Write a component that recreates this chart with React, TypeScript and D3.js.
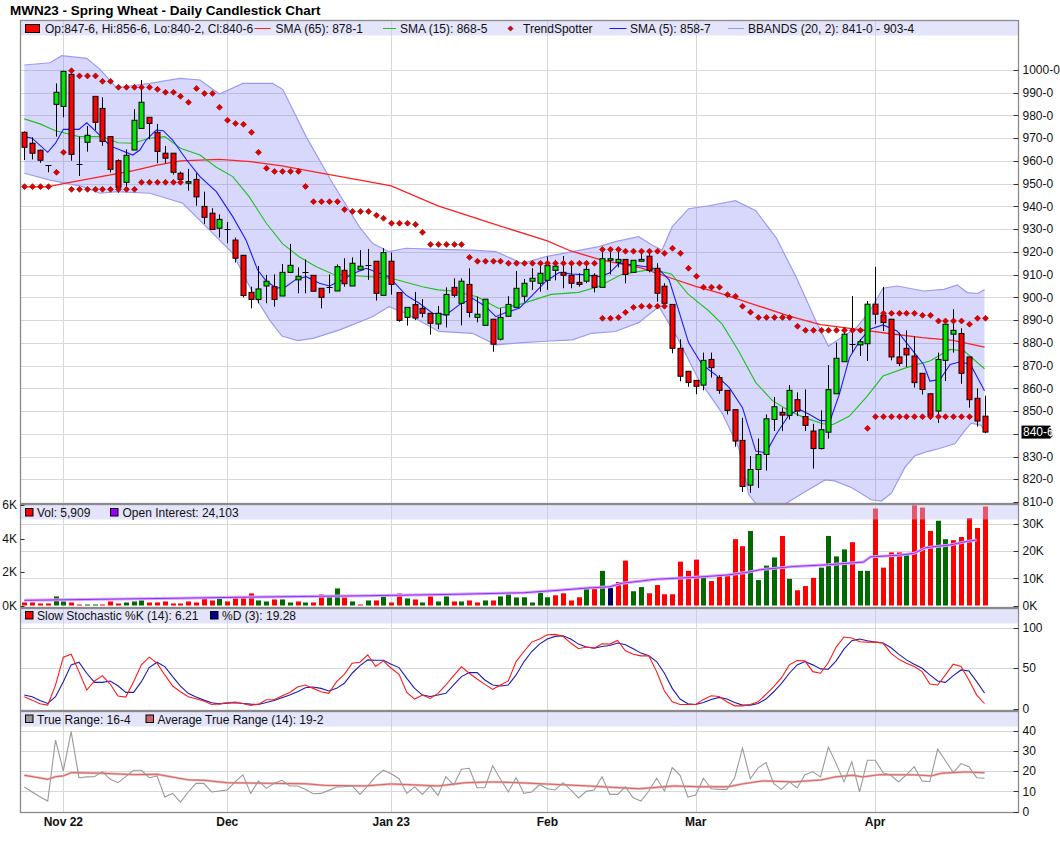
import { useRef, useEffect } from 'react';
import * as d3 from 'd3';

// daily candles, Oct 25 2022 .. Apr 24 2023 (index 0..123)
const opens = [
  972.6, 967.8, 964.7, 958.1, 984.9, 984.0, 998.1, 958.5, 968.2, 988.4, 983.1, 970.7, 960.1, 950.6, 964.8, 974.3, 979.2, 972.6, 963.4, 963.4,
  954.6, 950.2, 951.9, 940.0, 937.0, 930.4, 930.1, 925.2, 918.5, 902.2, 899.1, 905.0, 904.7, 900.6, 911.0, 907.7, 911.3, 909.7, 904.0, 904.7,
  902.8, 911.9, 905.0, 912.1, 914.3, 915.9, 900.9, 915.9, 902.1, 891.2, 896.8, 895.2, 893.0, 888.3, 892.3, 904.4, 897.4, 905.7, 891.2, 887.7,
  890.4, 881.6, 891.7, 895.6, 900.5, 907.1, 906.2, 907.5, 911.9, 911.0, 909.7, 906.6, 907.1, 909.7, 904.4, 916.3, 915.4, 916.7, 911.0, 915.9,
  918.1, 912.8, 904.9, 896.9, 877.6, 867.5, 863.5, 861.4, 872.7, 864.7, 859.1, 850.6, 837.1, 817.4, 824.3, 830.9, 846.3, 849.4, 848.1, 855.0,
  847.6, 841.2, 833.5, 840.7, 857.6, 871.7, 879.4, 879.1, 879.6, 897.0, 892.1, 890.4, 873.8, 877.6, 874.2, 866.6, 857.6, 850.0, 872.3, 883.8,
  884.1, 873.8, 855.6, 847.75,
];
const highs = [
  973.0, 970.4, 965.0, 958.1, 994.1, 999.7, 1000.3, 970.7, 975.4, 988.4, 988.0, 970.7, 960.7, 965.1, 982.8, 995.6, 979.2, 976.3, 966.6, 963.4,
  955.3, 956.5, 954.6, 946.5, 939.2, 936.5, 933.2, 926.3, 918.5, 904.7, 913.8, 909.9, 910.1, 914.7, 923.5, 913.2, 916.7, 909.7, 904.0, 910.1,
  914.5, 917.2, 917.6, 920.8, 921.3, 915.9, 921.6, 919.7, 902.1, 895.6, 902.4, 899.2, 893.0, 896.2, 904.4, 908.4, 908.4, 912.8, 900.3, 899.2,
  890.4, 895.2, 900.5, 911.6, 908.1, 912.8, 915.0, 917.9, 916.5, 918.2, 915.0, 910.6, 915.0, 910.6, 921.6, 921.6, 921.6, 916.7, 916.3, 920.8,
  920.8, 915.0, 906.2, 896.9, 881.6, 867.5, 863.5, 875.7, 875.7, 865.8, 859.1, 850.6, 847.0, 830.2, 837.9, 848.5, 856.2, 851.5, 861.4, 858.2,
  859.5, 844.4, 850.3, 870.2, 880.2, 886.7, 900.6, 881.6, 898.4, 913.4, 904.6, 890.4, 884.5, 885.5, 883.0, 866.6, 857.6, 875.7, 888.2, 894.8,
  886.4, 873.8, 860.0, 856.75,
];
const lows = [
  960.4, 960.7, 959.2, 955.0, 970.7, 979.2, 960.1, 953.4, 964.1, 973.6, 966.6, 954.9, 946.1, 948.7, 964.8, 974.3, 969.5, 959.0, 959.0, 954.0,
  950.2, 946.9, 940.3, 932.3, 929.9, 926.3, 923.8, 915.3, 900.0, 895.2, 897.4, 897.4, 895.9, 900.6, 911.0, 901.8, 901.8, 902.7, 895.2, 901.8,
  902.8, 904.7, 905.0, 912.1, 907.7, 898.6, 900.9, 901.2, 889.3, 887.6, 890.0, 891.2, 883.6, 886.0, 886.8, 900.0, 887.7, 891.2, 889.0, 887.7,
  876.1, 881.0, 891.7, 895.6, 898.1, 903.3, 902.5, 903.3, 907.5, 904.0, 904.0, 904.7, 906.2, 902.2, 904.4, 910.1, 913.2, 906.2, 911.0, 915.9,
  911.0, 898.1, 895.2, 875.4, 863.1, 860.7, 857.4, 859.1, 864.7, 857.6, 848.5, 834.3, 814.4, 814.0, 816.2, 823.8, 841.2, 841.2, 846.3, 847.8,
  841.2, 824.7, 833.1, 837.9, 857.6, 871.7, 875.7, 874.2, 872.0, 888.2, 885.2, 872.3, 869.8, 869.4, 860.3, 857.3, 846.3, 844.8, 863.2, 875.7,
  862.0, 851.5, 843.2, 840.25,
];
const closes = [
  966.0, 963.4, 960.3, 958.1, 990.2, 999.4, 962.9, 958.5, 971.3, 977.0, 968.6, 956.3, 948.4, 962.5, 977.9, 985.8, 976.5, 964.2, 961.2, 955.0,
  951.9, 950.9, 944.2, 935.2, 929.9, 934.3, 930.1, 917.2, 900.8, 899.1, 903.7, 907.1, 899.1, 911.0, 914.1, 909.3, 911.3, 902.7, 900.0, 904.7,
  913.5, 906.0, 915.0, 913.7, 914.3, 901.8, 919.7, 905.7, 889.9, 895.6, 890.9, 893.0, 888.6, 893.0, 901.3, 900.9, 907.1, 893.4, 892.6, 899.2,
  879.4, 891.2, 896.9, 904.0, 906.2, 908.4, 910.6, 914.0, 913.7, 909.7, 906.2, 905.7, 912.3, 904.4, 917.0, 917.0, 916.7, 910.1, 916.3, 916.7,
  911.9, 901.8, 897.4, 877.6, 865.3, 862.6, 860.9, 872.3, 869.1, 859.1, 850.3, 836.8, 816.8, 824.3, 830.9, 846.6, 851.9, 848.2, 859.1, 850.0,
  843.7, 833.5, 841.8, 859.4, 873.2, 883.8, 879.4, 880.5, 897.0, 892.6, 888.9, 873.8, 871.0, 874.7, 862.5, 859.5, 848.1, 872.7, 888.2, 885.5,
  866.6, 855.0, 845.6, 840.75,
];

// volume in thousands, direction vs previous close: g up, r down, n unchanged
const volumes = [
  0.18, 0.18, 0.12, 0.12, 0.54, 0.24, 0.18, 0.06, 0.06, 0.06, 0.06, 0.24, 0.12, 0.18, 0.24, 0.3, 0.18, 0.18, 0.24, 0.12,
  0.12, 0.24, 0.18, 0.42, 0.3, 0.42, 0.24, 0.48, 0.54, 0.72, 0.3, 0.24, 0.36, 0.36, 0.18, 0.24, 0.18, 0.18, 0.66, 0.54,
  1.02, 0.48, 0.24, 0.06, 0.3, 0.3, 0.66, 0.18, 0.72, 0.42, 0.36, 0.18, 0.54, 0.24, 0.54, 0.24, 0.24, 0.3, 0.18, 0.3,
  0.3, 0.54, 0.66, 0.48, 0.49, 0.18, 0.79, 0.49, 0.61, 0.73, 0.3, 0.49, 0.98, 0.98, 2.07, 1.04, 1.4, 2.68, 0.85, 1.1,
  0.73, 1.22, 0.67, 0.67, 2.62, 2.07, 2.74, 1.77, 1.46, 1.77, 1.83, 3.96, 3.54, 4.45, 1.52, 2.38, 2.87, 4.15, 1.59, 0.91,
  1.16, 1.65, 2.26, 4.15, 2.93, 3.35, 3.78, 2.07, 2.07, 5.79, 2.26, 3.17, 3.17, 3.11, 5.98, 5.85, 4.45, 5.06, 3.96, 3.9,
  4.09, 5.22, 4.63, 5.909,
];
const volumeDir =
  'rrrrggrrggrrrgggrrrrrrrrrgrrrrggrggrgrrggrgrgrgrrgrgrggrgrrgrgggg' +
  'gggrrrrgrgnrrggrrrrrrrgrrrrrggggrgrrrggggrggrrrrgrrrggrrrrr';

// open interest in thousands [day, value]
const openInterest = [
  [0, 1.9], [10, 2.3], [20, 2.7], [27, 3.0], [35, 3.3], [44, 3.6], [55, 4.1], [64, 4.7], [68, 5.5], [72, 6.4],
  [75, 6.9], [76.6, 8.2], [81, 9.7], [85.5, 10.3], [90, 11.2], [92.6, 12.2], [94.3, 13.2], [98.7, 14.4], [103, 15.0],
  [107.5, 16.0], [108.4, 17.9], [112, 18.5], [114, 19.2], [115.5, 21.3], [118.6, 22.3], [120.8, 23.6], [122, 24.1],
];

const sma65 = [
  [0, 948.6], [3, 948.6], [5, 950], [10, 953.2], [14, 955.7], [17, 958.2], [20, 960], [25, 960.7], [29, 959.7], [33, 957.8],
  [37, 955.3], [43, 951.6], [47, 949], [53, 940.2], [60, 932.4], [67, 924.8], [70, 920.4], [74, 916.4], [79, 913], [83, 908.3],
  [86, 904.8], [89, 902], [94, 896.3], [98, 891.8], [102, 888], [107, 885.8], [111, 884], [115, 882.3], [119, 881.1], [123, 878.1],
];
const sma15 = [
  [0, 978.5], [2, 976.3], [4, 973.3], [7, 970.7], [10, 970.7], [12, 968], [14, 967.8], [16, 970], [18, 970.7], [20, 965.6],
  [22.5, 962.6], [24.6, 957.2], [26.7, 953.1], [28.8, 944.3], [31, 932.6], [33.1, 923.5], [35.2, 917.9], [37.4, 913.5],
  [39.5, 910.3], [42.5, 909.5], [47, 908.4], [51, 904.7], [53, 903.3], [55, 902.8], [58, 900.3], [60.7, 895.2], [63.3, 896.7],
  [67.5, 901.3], [71, 902.2], [73.5, 904.7], [76.5, 910.1], [80.3, 912.3], [82.9, 910.3], [85, 901.5], [87.7, 894],
  [89.4, 888.2], [91.5, 876.4], [93.7, 862.5], [95.8, 854.7], [98, 850], [100, 847], [102.3, 844.4], [103.6, 844.1],
  [105.7, 847.8], [107.9, 856.2], [110, 865.4], [113, 869.1], [116, 872], [118.6, 877.1], [120.4, 876.4], [123, 868.6],
];
const sma5 = [
  [0, 970.7], [1, 970], [3, 963.8], [4, 967.8], [5, 973.9], [7, 973.9], [8, 976.8], [9.2, 972.9], [11, 966.6], [12.3, 964.8],
  [13.9, 962.6], [14.8, 964.8], [15.6, 969.2], [16.9, 973.6], [17.8, 973.3], [19, 969.2], [20.8, 960.4], [22.5, 953.1],
  [24.6, 946.5], [26.7, 935.5], [28.4, 925.2], [29.9, 912], [31, 907.2], [32.3, 904], [33.5, 904.7], [34.8, 907.9],
  [36.1, 909.1], [37.8, 906.2], [39.1, 905], [40.8, 907.7], [42, 910.3], [43.8, 912.8], [45, 911.3], [46.7, 909.1],
  [48.9, 901], [50.6, 897.4], [52.3, 893], [54, 892.3], [55.7, 896.7], [57.4, 899.6], [59.1, 896], [60.4, 891.5],
  [61.7, 893.3], [63.4, 895.2], [65.1, 901], [66.8, 907], [68.5, 910.9], [70.2, 910.3], [71.9, 909.9], [73.6, 909.1],
  [74.9, 910.6], [76.2, 915], [77.9, 914.3], [79.6, 913.5], [81.3, 912.3], [82.6, 907.7], [83.8, 894.5], [85.1, 880],
  [86.8, 870.5], [88.5, 866.1], [90.3, 860.3], [92, 851.5], [93.7, 832.4], [95, 831.6], [96.3, 839.7], [98, 848.5],
  [99.3, 850.7], [100.6, 848.5], [101.9, 845.9], [103.2, 845.6], [104.4, 857.3], [105.7, 873.5], [107, 880.8], [108.3, 886],
  [110, 887.9], [111.8, 885.2], [113.5, 877.9], [115.2, 870.5], [116, 863.2], [117.3, 863.9], [118.6, 870.5], [119.9, 871.7],
  [121.2, 870.5], [123, 858.9],
];
const bbUpper = [
  [0, 1002.2], [3.3, 1003.2], [4.8, 1006.3], [8, 1005.1], [9.7, 1000.3], [11.8, 992.2], [16.1, 994.1], [19.9, 996.3],
  [22.5, 995.6], [25, 989.4], [28, 994.1], [31.8, 994.1], [33.1, 991.5], [36.1, 970.7], [39.5, 950.2], [42.9, 931.1],
  [44.6, 923.8], [46.7, 920.1], [48.9, 921.6], [53.1, 921.1], [57.4, 920.8], [60.4, 920.1], [63.8, 915], [66.8, 917.9],
  [70.2, 920.1], [73.6, 922.3], [75.7, 924.5], [78.7, 926.7], [80.4, 923], [81.7, 920.8], [83, 931.1], [85.1, 939],
  [87.7, 940.3], [91.1, 942.5], [93.7, 938.1], [96.3, 926.3], [98.9, 908.7], [101.4, 889.6], [103, 878.6], [104, 880.8],
  [106.6, 886.7], [108.3, 894], [110, 904], [111.8, 905], [115.2, 902.8], [117.8, 903.5], [119.5, 905.5], [120.8, 902.1],
  [122.1, 901.7], [123, 903.4],
];
const bbLower = [
  [0, 954.6], [3.3, 951.6], [7.5, 948.7], [9.7, 945.8], [11.8, 946.5], [16.1, 945.8], [20.3, 941.4], [23.3, 931.1],
  [26.7, 919.4], [29.3, 901.8], [31.4, 890.1], [33, 883], [35, 881], [37, 882], [40.4, 885.7], [44.6, 891.5], [46.7, 895.9],
  [48.9, 893], [53.1, 885], [57.4, 884.2], [60.4, 879.1], [63.8, 880.1], [66.8, 880.7], [70.2, 881.3], [72.7, 884.2],
  [75.7, 885], [78.7, 888.9], [81.3, 896], [83.8, 881.3], [86.4, 863.7], [88, 856], [89.4, 849], [91.5, 834], [92.8, 813.3],
  [94, 808], [96, 805], [97.4, 809], [100, 814.5], [102.6, 819.7], [103.8, 819.3], [106, 816.3], [108.5, 811], [109.8, 810.4],
  [111.1, 814], [112.8, 825.2], [114.1, 830.4], [115.8, 832.3], [117, 833.3], [119.2, 835.6], [120.5, 841.5], [121.3, 844.7],
  [122.6, 843.7], [123, 841],
];

const trendSpotter = [
  [0, 948.7], [1, 948.7], [2, 948.7], [3, 948.7], [4, 955.0], [5, 963.8], [6, 999.7], [7, 997.4], [8, 997.4], [9, 997.4],
  [10, 995.0], [11, 995.0], [12, 992.4], [13, 992.4], [14, 992.4], [15, 992.4], [16, 992.4], [17, 991.5], [18, 990.2],
  [19, 990.2], [20, 988.4], [21, 985.8], [22, 991.9], [23, 989.7], [24, 989.7], [25, 983.6], [26, 977.9], [27, 976.5],
  [28, 976.1], [29, 972.6], [30, 963.8], [31, 956.8], [32, 955.4], [33, 955.4], [34, 955.4], [35, 955.4], [36, 948.8],
  [37, 942.1], [38, 942.1], [39, 942.1], [40, 942.1], [41, 938.6], [42, 937.8], [43, 937.8], [44, 937.8], [45, 936.1],
  [46, 934.8], [47, 932.6], [48, 932.6], [49, 932.6], [50, 932.1], [51, 928.6], [52, 923.3], [53, 923.3], [54, 923.3],
  [55, 923.3], [56, 923.3], [57, 917.6], [58, 915.9], [59, 915.9], [60, 915.9], [61, 915.9], [62, 915.0], [63, 915.0],
  [64, 915.0], [65, 915.0], [66, 915.0], [67, 915.0], [68, 915.0], [69, 915.0], [70, 915.0], [71, 915.0], [72, 915.0],
  [73, 915.0], [74, 921.1], [75, 921.1], [76, 921.1], [77, 920.3], [78, 920.3], [79, 920.3], [80, 920.3], [81, 920.3],
  [82, 919.4], [83, 921.6], [84, 919.4], [85, 912.8], [86, 909.3], [87, 904.5], [88, 904.5], [89, 904.5], [90, 901.2],
  [91, 900.5], [92, 896.1], [93, 893.5], [94, 891.2], [95, 891.2], [96, 891.2], [97, 891.2], [98, 891.2], [99, 887.3],
  [100, 885.5], [101, 885.5], [102, 885.5], [103, 885.5], [104, 885.5], [105, 885.5], [106, 885.5], [107, 885.5],
  [110, 893.0], [111, 893.0], [112, 893.0], [113, 893.0], [114, 893.0], [115, 892.1], [116, 892.1], [117, 889.6],
  [118, 889.6], [119, 889.6], [120, 889.6], [121, 888.2], [122, 890.8], [123, 890.8],
  // lower row
  [6, 947.5], [7, 947.5], [8, 947.5], [9, 947.5], [10, 947.5], [11, 947.5], [12, 947.5], [13, 947.5], [14, 947.5],
  [15, 950.6], [16, 950.6], [17, 950.6], [18, 950.6], [19, 950.6], [20, 950.6],
  [74, 890.8], [75, 890.8], [76, 891.2], [77, 893.4], [78, 895.6], [79, 896.1], [80, 896.1], [81, 896.1], [82, 896.1],
  [108, 842.4], [109, 847.5], [110, 847.5], [111, 847.5], [112, 847.5], [113, 847.5], [114, 847.5], [115, 847.5],
  [116, 847.5], [117, 847.5], [118, 847.5], [119, 847.5], [120, 847.5], [121, 847.5],
];

const stochK = [
  14.6, 10.4, 5.8, 4.2, 29, 63.8, 67.5, 45.8, 22.9, 34.2, 40.8, 30.4, 15.4, 14.2, 33.3, 54.2, 63.8, 56.3, 41.7, 27.9,
  20.8, 14.6, 12.1, 9.2, 5, 5.8, 7.1, 7.9, 6.3, 3.8, 5.4, 10.8, 10.8, 15.4, 20, 26.7, 29.2, 25, 20.8, 18.8,
  33.3, 42.5, 56.3, 57.5, 66.7, 52.1, 59.2, 50, 42.5, 20, 11.7, 16.7, 12.5, 18.8, 29.2, 40.8, 51.7, 43.8, 36.7, 30,
  23.8, 29.2, 34.2, 58.3, 70.8, 82.5, 86.3, 91.7, 92.1, 89.6, 81.3, 74.2, 76.3, 75, 80.4, 80, 84.6, 71.7, 67.5, 65.4,
  65.4, 45.8, 21.7, 8.3, 5, 5, 5, 11.3, 15.8, 15, 8.3, 3.3, 3.3, 5, 8.3, 17.5, 27.1, 38.3, 54.2, 59.6,
  59.2, 45.8, 43.8, 57.1, 76.3, 88.8, 87.5, 82.9, 82.5, 82.5, 81.3, 68.8, 61.3, 56.3, 52.1, 45.8, 30.4, 29.2, 41.7, 55,
  52.1, 35.4, 16.7, 6.21,
];
const stochD = [
  16.7, 14.6, 10, 6.3, 14.6, 33.3, 54.2, 57.5, 43.8, 32.5, 32.5, 34.2, 28.3, 20, 20, 33.3, 50.8, 57.5, 52.1, 39.6,
  27.9, 18.8, 14.2, 10.4, 7.1, 5.8, 6.7, 7.1, 6.3, 5.4, 5, 7.5, 10, 13.3, 16.7, 20.8, 25.8, 26.7, 25, 21.7,
  25, 31.3, 43.8, 53.3, 60.4, 60, 60, 55, 50.8, 37.5, 25, 16.7, 15, 16.7, 18.8, 29.2, 39.6, 44.6, 44.6, 35.4,
  29.2, 27.9, 29.2, 41.7, 58, 70.8, 80, 86.3, 89.6, 90.4, 86.3, 80, 76.3, 75, 77.1, 78.3, 81.3, 79.2, 74.2, 68.8,
  65.4, 58.3, 43.8, 25, 11.7, 5.8, 5, 7.5, 11.3, 13.8, 11.7, 7.5, 4.2, 4.2, 6.3, 11.7, 20.8, 31.3, 43.8, 54.2,
  58.3, 54.2, 49.2, 48.8, 59.2, 73.8, 84.2, 86.3, 84.2, 82.5, 81.3, 75.8, 67.5, 60.4, 55, 50, 41.7, 34.2, 32.5, 40.8,
  47.9, 46.7, 33.3, 19.28,
];

const trueRange = [
  12.2, 9.7, 7.3, 5.2, 35.5, 20.2, 39.7, 16.8, 17.2, 17.3, 19.8, 16, 14.3, 17.3, 20.5, 20.5, 16.8, 17.7, 7.2, 9,
  4.7, 9.7, 14, 14, 9.7, 10.2, 10.7, 14.7, 18.2, 9, 15.2, 11.5, 14, 15.5, 12.7, 12.7, 11, 8.8, 9, 10.5,
  12.2, 12.3, 12.7, 8.5, 12.7, 17.3, 20.5, 18.8, 16.3, 9, 12.2, 8.5, 12.7, 8, 17.3, 13.2, 21, 21.5, 11.8, 11.8,
  22.7, 16, 9.7, 16.8, 9, 9.7, 13.3, 11.3, 10.7, 14.3, 10.7, 6.7, 10, 10.7, 17.3, 8.5, 8.5, 12.2, 6.8, 5.2,
  10.2, 16.5, 10.2, 21.8, 18, 7.2, 8.2, 16.5, 11.3, 11, 11, 16.8, 31.5, 16.3, 21.7, 24.3, 13.8, 11, 14.7, 11.7,
  18.3, 19.7, 17.2, 32, 23.8, 14.7, 24.7, 9.7, 25.5, 25.5, 19.3, 18, 14.7, 18.2, 22.3, 15.2, 14.8, 31, 25.2, 19.3,
  23.8, 22.3, 16.8, 16.5,
];
const avgTrueRange = [
  [0, 18], [3, 16], [4, 17.3], [5, 17.7], [6, 19.3], [10, 19], [14, 18.3], [17, 18.5], [21, 15.7], [23, 15.5], [26, 14.3],
  [31.5, 14], [36, 13.8], [38.4, 13], [43.6, 12.7], [47, 13.7], [53, 12.7], [56.5, 14.3], [60, 14.7], [63.4, 14.3],
  [67.8, 13.5], [72.2, 12.7], [78.8, 11.3], [83.2, 12.7], [86.3, 12.3], [90.2, 12.3], [92, 13.7], [94.6, 15.2],
  [98.6, 14.7], [102.1, 15.7], [103.9, 17.2], [106.1, 18], [107.4, 17.2], [109.6, 18.3], [114, 18.2], [116.2, 17.7],
  [117.5, 19], [120.6, 19.7], [123, 19.25],
];

const monthTicks = [5, 26, 47, 67, 86, 109];
const monthLabels = ['Nov 22', 'Dec', 'Jan 23', 'Feb', 'Mar', 'Apr'];
const priceTicks = d3.range(810, 1001, 10);
const volTicks = [0, 2, 4, 6];
const oiTicks = [0, 10, 20, 30];
const stochTicks = [0, 50, 100];
const atrTicks = [0, 10, 20, 30, 40];

const FONT = 'Arial, "Liberation Sans", sans-serif';
const LEFT = 20.5;
const RIGHT = 1018.5;

const App = () => {
  const svgRef = useRef<SVGSVGElement>(null);

  useEffect(() => {
    if (!svgRef.current) return;
    const svg = d3.select(svgRef.current);
    svg.selectAll('*').remove();

    const x = d3.scaleLinear().domain([0, 123]).range([24.3, 984.5]);
    const yP = d3.scaleLinear().domain([810, 1000]).range([502, 70]);
    const yV = d3.scaleLinear().domain([0, 6]).range([605.5, 505]);
    const yOI = d3.scaleLinear().domain([0, 30]).range([605.5, 524]);
    const yS = d3.scaleLinear().domain([0, 100]).range([708.5, 628]);
    const yA = d3.scaleLinear().domain([0, 40]).range([811.5, 731]);

    const defs = svg.append('defs');
    const clip = (id: string, top: number, bottom: number) =>
      defs.append('clipPath').attr('id', id).append('rect')
        .attr('x', LEFT).attr('y', top).attr('width', RIGHT - LEFT).attr('height', bottom - top);
    clip('clipMain', 20.5, 503.5);
    clip('clipVol', 504.5, 607.5);

    svg.append('rect').attr('width', 1060).attr('height', 851).attr('fill', '#fff');

    svg.append('text').attr('x', 10).attr('y', 15).attr('font-family', FONT)
      .attr('font-size', 13.5).attr('font-weight', 'bold').attr('fill', '#000')
      .text('MWN23 - Spring Wheat - Daily Candlestick Chart');

    const panelBase = (top: number, bottom: number, ys: d3.ScaleLinear<number, number>, ticks: number[]) => {
      const g = svg.append('g');
      g.append('rect').attr('x', LEFT).attr('y', top).attr('width', RIGHT - LEFT)
        .attr('height', bottom - top).attr('fill', '#fff');
      g.selectAll('.hg').data(ticks).enter().append('line')
        .attr('x1', LEFT).attr('x2', RIGHT)
        .attr('y1', (d) => Math.round(ys(d)) + 0.5).attr('y2', (d) => Math.round(ys(d)) + 0.5)
        .attr('stroke', '#d8d8d8');
      g.selectAll('.vg').data(monthTicks).enter().append('line')
        .attr('x1', (d) => Math.round(x(d)) + 0.5).attr('x2', (d) => Math.round(x(d)) + 0.5)
        .attr('y1', top).attr('y2', bottom).attr('stroke', '#d8d8d8');
      return g;
    };

    const rightAxis = (ys: d3.ScaleLinear<number, number>, ticks: number[], fmt: (d: number) => string) => {
      const g = svg.append('g');
      g.selectAll('line').data(ticks).enter().append('line')
        .attr('x1', RIGHT - 5).attr('x2', RIGHT)
        .attr('y1', (d) => Math.round(ys(d)) + 0.5).attr('y2', (d) => Math.round(ys(d)) + 0.5)
        .attr('stroke', '#333');
      g.selectAll('text').data(ticks).enter().append('text')
        .attr('x', RIGHT + 4).attr('y', (d) => ys(d)).attr('dy', '0.35em')
        .attr('font-family', FONT).attr('font-size', 12).attr('fill', '#111')
        .text(fmt);
    };

    const legendBand = (top: number) =>
      svg.append('rect').attr('x', LEFT + 0.5).attr('y', top + 0.5).attr('width', RIGHT - LEFT - 1)
        .attr('height', 14.5).attr('fill', '#c4c4f4').attr('opacity', 0.45);

    const legendText = (tx: number, ty: number, s: string) =>
      svg.append('text').attr('x', tx).attr('y', ty).attr('font-family', FONT)
        .attr('font-size', 12).attr('fill', '#111').text(s);

    const swatch = (sx: number, sy: number, w: number, h: number, fill: string) =>
      svg.append('rect').attr('x', sx).attr('y', sy).attr('width', w).attr('height', h)
        .attr('fill', fill).attr('stroke', '#000').attr('stroke-width', 1);

    const border = (top: number, bottom: number) =>
      svg.append('rect').attr('x', LEFT).attr('y', top).attr('width', RIGHT - LEFT)
        .attr('height', bottom - top).attr('fill', 'none').attr('stroke', '#8a8a8a').attr('stroke-width', 1.3);

    const pathOf = (pts: number[][], ys: d3.ScaleLinear<number, number>) =>
      d3.line<number[]>().x((d) => x(d[0])).y((d) => ys(d[1]))(pts) as string;

    // ---------- main price panel ----------
    panelBase(20.5, 503.5, yP, priceTicks.filter((p) => p > 810));
    const main = svg.append('g').attr('clip-path', 'url(#clipMain)');

    const band = pathOf([...bbUpper, ...bbLower.slice().reverse()], yP) + 'Z';
    main.append('path').attr('d', band).attr('fill', 'rgba(110,110,245,0.27)').attr('stroke', 'none');
    main.append('path').attr('d', pathOf(bbUpper, yP)).attr('fill', 'none').attr('stroke', '#9a9af5').attr('stroke-width', 1.2);
    main.append('path').attr('d', pathOf(bbLower, yP)).attr('fill', 'none').attr('stroke', '#9a9af5').attr('stroke-width', 1.2);

    main.append('path').attr('d', pathOf(sma65, yP)).attr('fill', 'none').attr('stroke', '#ff2020').attr('stroke-width', 1.3);
    main.append('path').attr('d', pathOf(sma15, yP)).attr('fill', 'none').attr('stroke', '#20c020').attr('stroke-width', 1.1);
    main.append('path').attr('d', pathOf(sma5, yP)).attr('fill', 'none').attr('stroke', '#1a1aff').attr('stroke-width', 1.1);

    const days = d3.range(closes.length);
    const candles = main.selectAll('.candle').data(days).enter().append('g');
    candles.append('line')
      .attr('x1', (i) => Math.round(x(i)) + 0.5).attr('x2', (i) => Math.round(x(i)) + 0.5)
      .attr('y1', (i) => yP(highs[i])).attr('y2', (i) => yP(lows[i]))
      .attr('stroke', '#000').attr('stroke-width', 1);
    candles.filter((i) => Math.abs(opens[i] - closes[i]) < 0.2).append('line')
      .attr('x1', (i) => Math.round(x(i)) - 2.5).attr('x2', (i) => Math.round(x(i)) + 3.5)
      .attr('y1', (i) => Math.round(yP(closes[i])) + 0.5).attr('y2', (i) => Math.round(yP(closes[i])) + 0.5)
      .attr('stroke', '#000').attr('stroke-width', 1.2);
    candles.filter((i) => Math.abs(opens[i] - closes[i]) >= 0.2).append('rect')
      .attr('x', (i) => Math.round(x(i)) - 2)
      .attr('y', (i) => yP(Math.max(opens[i], closes[i])))
      .attr('width', 5)
      .attr('height', (i) => Math.max(1, Math.abs(yP(opens[i]) - yP(closes[i]))))
      .attr('fill', (i) => (closes[i] > opens[i] ? '#00e400' : '#ff0000'))
      .attr('stroke', '#000').attr('stroke-width', 1);

    const diamond = (cx: number, cy: number, r: number) =>
      `M${cx},${cy - r}L${cx + r},${cy}L${cx},${cy + r}L${cx - r},${cy}Z`;
    main.selectAll('.ts').data(trendSpotter).enter().append('path')
      .attr('d', (d) => diamond(Math.round(x(d[0])) + 0.5, yP(d[1]), 3))
      .attr('fill', '#e00000').attr('stroke', '#8a0000').attr('stroke-width', 0.6);

    legendBand(20.5);
    swatch(25.5, 24.5, 14, 8, '#ff0000');
    legendText(45, 32.5, 'Op:847-6, Hi:856-6, Lo:840-2, Cl:840-6');
    svg.append('line').attr('x1', 254.5).attr('x2', 270.5).attr('y1', 28.5).attr('y2', 28.5).attr('stroke', '#ff2020');
    legendText(275.5, 32.5, 'SMA (65): 878-1');
    svg.append('line').attr('x1', 383).attr('x2', 396).attr('y1', 28.5).attr('y2', 28.5).attr('stroke', '#20c020');
    legendText(400, 32.5, 'SMA (15): 868-5');
    svg.append('path').attr('d', diamond(510.5, 28.5, 2.6)).attr('fill', '#e00000').attr('stroke', '#8a0000').attr('stroke-width', 0.6);
    legendText(523, 32.5, 'TrendSpotter');
    svg.append('line').attr('x1', 609.5).attr('x2', 626.5).attr('y1', 28.5).attr('y2', 28.5).attr('stroke', '#1a1aff');
    legendText(630, 32.5, 'SMA (5): 858-7');
    svg.append('line').attr('x1', 728).attr('x2', 744).attr('y1', 28.5).attr('y2', 28.5).attr('stroke', '#9a9af5');
    legendText(748, 32.5, 'BBANDS (20, 2): 841-0 - 903-4');
    border(20.5, 503.5);
    rightAxis(yP, priceTicks, (d) => `${d}-0`);

    // last price box
    const lastY = yP(closes[closes.length - 1]);
    svg.append('rect').attr('x', 1021.5).attr('y', lastY - 6.5).attr('width', 29).attr('height', 13).attr('fill', '#000');
    svg.append('text').attr('x', 1023).attr('y', lastY).attr('dy', '0.36em').attr('font-family', FONT)
      .attr('font-size', 12).attr('fill', '#fff').text('840-6');

    // ---------- volume panel ----------
    panelBase(504.5, 607.5, yOI, oiTicks.filter((d) => d > 0));
    const vol = svg.append('g').attr('clip-path', 'url(#clipVol)');
    vol.selectAll('.vb').data(days).enter().append('rect')
      .attr('x', (i) => Math.round(x(i)) - 2)
      .attr('y', (i) => yV(volumes[i]))
      .attr('width', 5)
      .attr('height', (i) => yV(0) - yV(volumes[i]))
      .attr('fill', (i) => (volumeDir[i] === 'g' ? '#006a00' : volumeDir[i] === 'n' ? '#00005e' : '#ff0000'));
    vol.append('path').attr('d', pathOf(openInterest, yOI)).attr('fill', 'none')
      .attr('stroke', '#d2a8ff').attr('stroke-width', 3);
    vol.append('path').attr('d', pathOf(openInterest, yOI)).attr('fill', 'none')
      .attr('stroke', '#9a2cf0').attr('stroke-width', 1);
    legendBand(504.5);
    swatch(25.5, 508.5, 7.5, 7.5, '#ff0000');
    legendText(37, 517, 'Vol: 5,909');
    swatch(110.5, 508.5, 7.5, 7.5, '#9900ff');
    legendText(122.5, 517, 'Open Interest: 24,103');
    border(504.5, 607.5);
    rightAxis(yOI, oiTicks, (d) => `${d}K`);
    const la = svg.append('g');
    la.selectAll('line').data(volTicks).enter().append('line')
      .attr('x1', LEFT).attr('x2', LEFT + 4)
      .attr('y1', (d) => Math.round(yV(d)) + 0.5).attr('y2', (d) => Math.round(yV(d)) + 0.5)
      .attr('stroke', '#333');
    la.selectAll('text').data(volTicks).enter().append('text')
      .attr('x', 17).attr('y', (d) => yV(d)).attr('dy', '0.35em').attr('text-anchor', 'end')
      .attr('font-family', FONT).attr('font-size', 12).attr('fill', '#111').text((d) => `${d}K`);

    // ---------- stochastic panel ----------
    panelBase(608.5, 710.5, yS, [50, 100]);
    const kPts = stochK.map((v, i) => [i, v]);
    const dPts = stochD.map((v, i) => [i, v]);
    svg.append('path').attr('d', pathOf(dPts, yS)).attr('fill', 'none').attr('stroke', '#1c1cb0').attr('stroke-width', 1.1);
    svg.append('path').attr('d', pathOf(kPts, yS)).attr('fill', 'none').attr('stroke', '#ff1a1a').attr('stroke-width', 1.1);
    legendBand(608.5);
    swatch(25.5, 611.5, 7.5, 7.5, '#ff0000');
    legendText(37, 620, 'Slow Stochastic %K (14): 6.21');
    swatch(210.5, 611.5, 7.5, 7.5, '#000090');
    legendText(222, 620, '%D (3): 19.28');
    border(608.5, 710.5);
    rightAxis(yS, stochTicks, (d) => `${d}`);

    // ---------- ATR panel ----------
    panelBase(711.5, 812.5, yA, [10, 20, 30, 40]);
    const trPts = trueRange.map((v, i) => [i, v]);
    svg.append('path').attr('d', pathOf(avgTrueRange, yA)).attr('fill', 'none')
      .attr('stroke', '#f0b4b4').attr('stroke-width', 2.4);
    svg.append('path').attr('d', pathOf(avgTrueRange, yA)).attr('fill', 'none')
      .attr('stroke', '#d25a5a').attr('stroke-width', 0.9);
    svg.append('path').attr('d', pathOf(trPts, yA)).attr('fill', 'none')
      .attr('stroke', '#9a9a9a').attr('stroke-width', 1.1);
    legendBand(711.5);
    swatch(25.5, 715, 7.5, 7.5, '#999999');
    legendText(37, 723.5, 'True Range: 16-4');
    swatch(146, 715, 7.5, 7.5, '#cc6666');
    legendText(157.5, 723.5, 'Average True Range (14): 19-2');
    border(711.5, 812.5);
    rightAxis(yA, atrTicks, (d) => `${d}`);

    // ---------- month labels ----------
    svg.append('g').selectAll('text').data(monthTicks).enter().append('text')
      .attr('x', (d) => x(d)).attr('y', 826).attr('text-anchor', 'middle')
      .attr('font-family', FONT).attr('font-size', 12).attr('font-weight', 'bold').attr('fill', '#111')
      .text((d, i) => monthLabels[i]);
  }, []);

  return (
    <div style={{ position: 'absolute', left: 0, top: 0 }}>
      <svg ref={svgRef} width={1060} height={851} style={{ display: 'block' }}></svg>
    </div>
  );
};

export default App;
